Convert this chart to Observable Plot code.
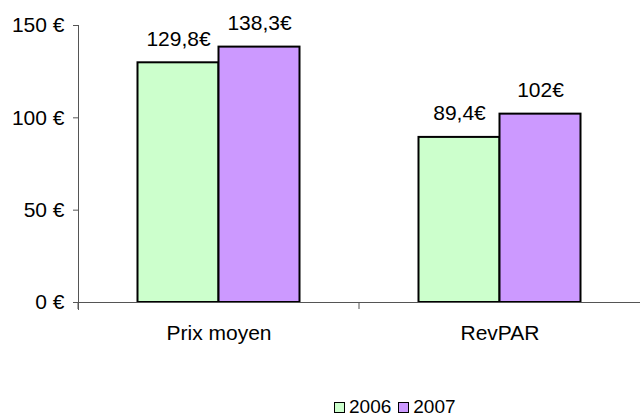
<!DOCTYPE html>
<html>
<head>
<meta charset="utf-8">
<script src="https://cdn.jsdelivr.net/npm/d3@7"></script>
<script src="https://cdn.jsdelivr.net/npm/@observablehq/plot@0.6"></script>
<style>
  body { margin: 0; background: #fff; font-family: "Liberation Sans", Arial, sans-serif; }
  #wrap { position: relative; width: 640px; height: 417px; }
  #legend { position: absolute; left: 334px; top: 396px; display: flex; align-items: center; font-size: 19px; color: #000; }
  .item { display: flex; align-items: center; margin-right: 7px; }
  .sw { width: 9px; height: 9px; border: 1px solid #000; margin-right: 4px; }
</style>
</head>
<body>
<div id="wrap"><div id="chart"></div><div id="legend"></div></div>
<script>
const categories = ["Prix moyen", "RevPAR"];
const years = ["2006", "2007"];
const values2006 = [129.8, 89.4];
const values2007 = [138.3, 102];
const yTicks = [0, 50, 100, 150];
const colors = ["#CCFFCC", "#CC99FF"];

const data = [];
categories.forEach((c, i) => {
  data.push({cat: c, year: "2006", value: values2006[i]});
  data.push({cat: c, year: "2007", value: values2007[i]});
});
const fmt = v => String(v).replace(".", ",") + "€";

const facetTick = (index, scales, values, dims) => {
  const g = d3.create("svg:g");
  const y0 = dims.height - dims.marginBottom;
  g.append("line")
    .attr("x1", dims.marginLeft).attr("x2", dims.marginLeft)
    .attr("y1", y0).attr("y2", y0 + 7)
    .attr("stroke", "#555").attr("stroke-width", 1);
  return g.node();
};

const FS = 21;
const chart = Plot.plot({
  width: 640,
  height: 380,
  marginTop: 25,
  marginBottom: 78,
  marginLeft: 77.5,
  marginRight: 0,
  style: {fontFamily: "'Liberation Sans', Arial, sans-serif", fontSize: FS + "px", color: "#000", background: "#fff"},
  fx: {domain: categories, padding: 0, label: null},
  x: {domain: years, paddingInner: 0, paddingOuter: 0.73, axis: null},
  y: {domain: [0, 150], label: null},
  color: {domain: years, range: colors},
  marks: [
    Plot.barY(data, {fx: "cat", x: "year", y: "value", fill: "year", stroke: "#000", strokeWidth: 2}),
    Plot.text(data, {fx: "cat", x: "year", y: "value", text: d => fmt(d.value), lineAnchor: "bottom", dy: -17, fontSize: FS, fill: "#000"}),
    Plot.ruleY([0], {stroke: "#555"}),
    Plot.frame({anchor: "left", facetAnchor: "left", stroke: "#555", insetBottom: -7}),
    facetTick,
    Plot.axisY({ticks: yTicks, tickSize: 5, tickPadding: 9, tickFormat: d => d + " €", label: null, fontSize: FS, stroke: "#555", color: "#000"}),
    Plot.axisFx({anchor: "bottom", tickSize: 0, tickPadding: 23, label: null, fontSize: FS})
  ]
});
document.getElementById("chart").appendChild(chart);

const legend = document.getElementById("legend");
years.forEach((y, i) => {
  const item = document.createElement("div");
  item.className = "item";
  const sw = document.createElement("div");
  sw.className = "sw";
  sw.style.background = colors[i];
  item.appendChild(sw);
  const t = document.createElement("span");
  t.textContent = y;
  item.appendChild(t);
  legend.appendChild(item);
});
</script>
</body>
</html>
